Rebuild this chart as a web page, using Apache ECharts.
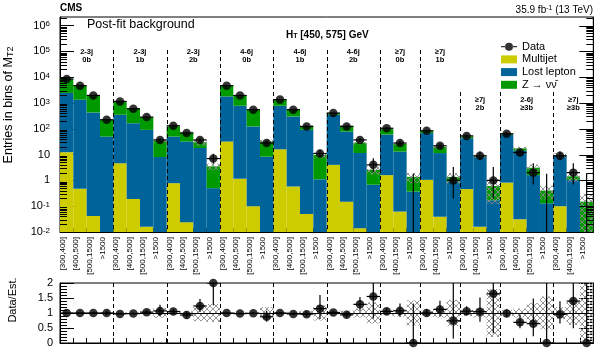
<!DOCTYPE html>
<html><head><meta charset="utf-8">
<script src="https://cdn.jsdelivr.net/npm/echarts@6/dist/echarts.min.js"></script>
<style>html,body{margin:0;padding:0;background:#fff}#c{width:598px;height:353px}</style>
</head><body><div id="c"></div>
<script>
// ---------------- data ----------------
const categories = [
 '[300,400]','[400,500]','[500,1500]','>1500',
 '[300,400]','[400,500]','[500,1500]','>1500',
 '[300,400]','[400,500]','[500,1500]','>1500',
 '[300,400]','[400,500]','[500,1500]','>1500',
 '[300,400]','[400,500]','[500,1500]','>1500',
 '[300,400]','[400,500]','[500,1500]','>1500',
 '[300,400]','[400,1500]','>1500',
 '[300,400]','[400,1500]','>1500',
 '[300,400]','[400,1500]','>1500',
 '[300,400]','[400,500]','[500,1500]','>1500',
 '[300,400]','[400,1500]','>1500'
];
const groupJets  = ['2-3j','2-3j','2-3j','4-6j','4-6j','4-6j','\u22657j','\u22657j','\u22657j','2-6j','\u22657j'];
const groupBtags = ['0b','1b','2b','0b','1b','2b','0b','1b','2b','\u22653b','\u22653b'];
const groupSizes = [4,4,4,4,4,4,3,3,3,4,3];

const multijet = [12.4,0.47,0.042,0, 4.6,0.19,0.016,0, 0.78,0.024,0,0,
  32,1.15,0.10,0, 16,0.58,0.05,0, 4.0,0.15,0.014,0,
  1.6,0.062,0, 1.05,0.039,0, 0.46,0.016,0, 0.82,0.031,0,0, 0.10,0,0];
const lostLepton = [2438,1350,430,50, 345,165,91,8, 49,32,18,0.5,
  1770,780,123,8.3, 764,300,91,1.1, 346,78,11.5,0.68,
  58,13,0.37, 67,11.4,0.9, 42.5,8.0,0.17, 57,14,1.6,0.13, 8.8,1.05,0];
const zinv = [6050,3350,1530,174, 835,447,185,26.6, 75,41,12,3.0,
  2900,1220,433,23.7, 570,267,37,8.5, 50,53,17.2,1.9,
  40,13,1.0, 16,8.2,0.45, 7,0.6,0.44, 7,3.4,1.5,0.27, 0.5,0.38,0.15];
const dataCounts = [8500,4700,1960,224, 1150,600,284,37, 131,68,37,7,
  4700,1960,550,28, 1350,550,123,11, 407,123,37,4,
  105,28,0, 84,22,1, 53,9,1, 64,12,2,0, 9,2,0];
const dataErrLo = [92,69,44,15, 34,24,17,6.1, 11.4,8.2,6.1,2.6,
  69,44,23,5.3, 37,23,11,3.3, 20,11,6.1,1.9,
  10.2,5.3,0, 9.2,4.7,0.8, 7.3,2.9,0.8, 8,3.4,1.3,0, 2.9,1.3,0];
const dataErrHi = [92,69,44,15, 34,24,17,7.1, 11.4,8.2,7.1,3.8,
  69,44,23,6.3, 37,23,11,4.4, 20,11,7.1,3.2,
  11.2,6.3,1.8, 10.2,5.7,2.3, 8.3,4.1,2.3, 9,4.6,2.6,1.8, 4.1,2.6,1.8];
const bkgUncRel = [0.02,0.02,0.02,0.03, 0.02,0.02,0.03,0.16, 0.04,0.06,0.27,0.3,
  0.02,0.03,0.03,0.2, 0.03,0.04,0.08,0.25, 0.04,0.08,0.15,0.35,
  0.08,0.12,0.42, 0.08,0.15,0.44, 0.1,0.15,0.8, 0.1,0.15,0.33,0.55, 0.2,0.4,1.0];
const yTickValuesNote = 'log axis 1e-2 .. 1e6';

// ---------------- derived ----------------
const FONT = '"Liberation Sans", Arial, Helvetica, sans-serif';
const nBins = categories.length;
const yMin = 0.01, yMax = 2.15e6;
const cum1 = multijet.slice();
const cum2 = multijet.map((v,i)=>v+lostLepton[i]);
const total = cum2.map((v,i)=>v+zinv[i]);
const groupStart = []; {let s=0; for (const n of groupSizes){groupStart.push(s); s+=n;}}
const lowLabelGroups = new Set([8,9,10]);
const COL = {mj:'#cccc00', ll:'#00649b', z:'#009a00'};

function hatchCanvas(){
  const c=document.createElement('canvas'); c.width=6; c.height=6;
  const g=c.getContext('2d'); g.strokeStyle='#8a8a8a'; g.lineWidth=0.9;
  g.beginPath(); g.moveTo(0,0); g.lineTo(6,6); g.moveTo(6,0); g.lineTo(0,6); g.stroke();
  return c;
}
const HATCH = {image: hatchCanvas(), repeat:'repeat'};
const cl = v => Math.max(v, yMin);

function layer(name, color, lo, hi){
  return {
    type:'custom', name, xAxisIndex:0, yAxisIndex:0, clip:true, silent:true,
    itemStyle:{color},
    data: lo.map((l,i)=>[i, cl(l), cl(hi[i])]),
    renderItem(params, api){
      const i=api.value(0), l=api.value(1), h=api.value(2);
      if (!(h>l)) return null;
      const bw = params.coordSys.width/nBins;
      const p1=api.coord([i,l]), p2=api.coord([i,h]);
      return {type:'rect', shape:{x:p1[0]-bw/2, y:p2[1], width:bw, height:p1[1]-p2[1]}, style:{fill:color}};
    }
  };
}

const minorVals = [];
for (let e=-2; e<=6; e++){ for (let k=2;k<=9;k++){ const v=k*Math.pow(10,e); if (v<yMax) minorVals.push([0,v,7]); } }
for (let e=-2; e<=6; e++) minorVals.push([0,Math.pow(10,e),14]);

const black = {color:'#000', width:1};
const option = {
  animation:false,
  textStyle:{fontFamily:FONT},
  grid:[
    {left:60, top:17, width:533.3, height:215, show:true, borderColor:'#000', borderWidth:1, backgroundColor:'#fff', outerBoundsMode:'none'},
    {left:60, top:283, width:533.3, height:60, show:true, borderColor:'#000', borderWidth:1, backgroundColor:'#fff', outerBoundsMode:'none'}
  ],
  legend:{
    left:496, top:36.2, orient:'vertical', itemWidth:16, itemHeight:8, itemGap:1.7, selectedMode:false,
    textStyle:{fontSize:11, lineHeight:11, color:'#000', fontFamily:FONT},
    data:[
      {name:'Data', icon:'path://M0,3.4H4.2V4.6H0Z M11.8,3.4H16V4.6H11.8Z M4,4A4,4 0 1,0 12,4A4,4 0 1,0 4,4Z', itemStyle:{color:'#000'}},
      {name:'Multijet', icon:'rect'},
      {name:'Lost lepton', icon:'rect'},
      {name:'Z \u2192 \u03bd\u03bd\u0304', icon:'rect'}
    ]
  },
  xAxis:[
    {type:'category', gridIndex:0, data:categories, boundaryGap:true,
     axisLine:{show:true, lineStyle:black},
     axisTick:{show:true, inside:true, length:4, interval:0, lineStyle:black},
     axisLabel:{interval:0, rotate:90, fontSize:8, margin:5, color:'#000', fontFamily:FONT, verticalAlign:'bottom'},
     splitLine:{show:false}},
    {type:'category', gridIndex:1, data:categories, boundaryGap:true,
     axisLine:{show:true, lineStyle:black},
     axisTick:{show:true, inside:true, length:5, interval:0, lineStyle:black},
     axisLabel:{show:false}, splitLine:{show:false}}
  ],
  yAxis:[
    {type:'log', gridIndex:0, min:yMin, max:yMax, logBase:10,
     axisLine:{show:true, lineStyle:black},
     axisTick:{show:true, inside:true, length:14, lineStyle:black},
     splitLine:{show:false}, minorTick:{show:false},
     axisLabel:{showMaxLabel:false, margin:10, fontSize:11, color:'#000', fontFamily:FONT,
       formatter:v=>{const n=Math.round(Math.log10(v)); if(n===0) return '1'; if(n===1) return '10'; return '10{sup|'+n+'}';},
       rich:{sup:{fontSize:8, verticalAlign:'top', lineHeight:8, fontFamily:FONT, color:'#000'}}}},
    {type:'log', gridIndex:0, min:yMin, max:yMax, logBase:10, position:'right',
     axisLine:{show:true, lineStyle:black}, axisTick:{show:false}, axisLabel:{show:false}, splitLine:{show:false}},
    {type:'value', gridIndex:1, min:0, max:2, interval:0.5,
     axisLine:{show:true, lineStyle:black},
     axisTick:{show:true, inside:true, length:14, lineStyle:black},
     minorTick:{show:true, splitNumber:5, length:7, lineStyle:black},
     splitLine:{show:false},
     axisLabel:{margin:7, fontSize:11, color:'#000', fontFamily:FONT, formatter:v=>String(v)}},
    {type:'value', gridIndex:1, min:0, max:2, interval:0.5, position:'right',
     axisLine:{show:true, lineStyle:black},
     axisTick:{show:true, inside:true, length:14, lineStyle:black},
     minorTick:{show:true, splitNumber:5, length:7, lineStyle:black},
     splitLine:{show:false}, axisLabel:{show:false}}
  ],
  series:[
    layer('Multijet', COL.mj, multijet.map(()=>0), cum1),
    layer('Lost lepton', COL.ll, cum1, cum2),
    layer('Z \u2192 \u03bd\u03bd\u0304', COL.z, cum2, total),
    // uncertainty band (main)
    {type:'custom', xAxisIndex:0, yAxisIndex:0, clip:true, silent:true,
     data: total.map((t,i)=>[i, cl(t*(1-bkgUncRel[i])), cl(t*(1+bkgUncRel[i]))]),
     renderItem(params, api){
       const i=api.value(0), l=api.value(1), h=api.value(2);
       if (!(h>l)) return null;
       const bw=params.coordSys.width/nBins;
       const p1=api.coord([i,l]), p2=api.coord([i,h]);
       return {type:'rect', shape:{x:p1[0]-bw/2, y:p2[1], width:bw, height:p1[1]-p2[1]}, style:{fill:HATCH}};
     }},
    // ticks on log axis (minor left/right, major right)
    {type:'custom', xAxisIndex:0, yAxisIndex:0, clip:false, silent:true, data:minorVals,
     renderItem(params, api){
       const cs=params.coordSys; const y=Math.round(api.coord([0,api.value(1)])[1])+0.5; const L=api.value(2);
       const ch=[{type:'line', shape:{x1:cs.x+cs.width-L, y1:y, x2:cs.x+cs.width, y2:y}, style:{stroke:'#000', lineWidth:1}}];
       if (L<10) ch.push({type:'line', shape:{x1:cs.x, y1:y, x2:cs.x+L, y2:y}, style:{stroke:'#000', lineWidth:1}});
       return {type:'group', children:ch};
     }},
    // group separators and labels (main)
    {type:'custom', xAxisIndex:0, yAxisIndex:0, clip:false, silent:true,
     data: groupSizes.map((n,g)=>[groupStart[g],1]),
     renderItem(params, api){
       const g=params.dataIndex, cs=params.coordSys, bw=cs.width/nBins;
       const x0=api.coord([groupStart[g],1])[0]-bw/2, xc=x0+groupSizes[g]*bw/2;
       const low=lowLabelGroups.has(g);
       const ch=[];
       if (g>0) ch.push({type:'line', shape:{x1:Math.round(x0)+0.5, y1:cs.y+(low?75:33), x2:Math.round(x0)+0.5, y2:cs.y+cs.height}, style:{stroke:'#000', lineWidth:1, lineDash:[4,3]}});
       ch.push({type:'text', x:xc, y:cs.y+(low?82.5:34.5), style:{text:groupJets[g], font:'bold 7.5px '+FONT, fill:'#000', align:'center', verticalAlign:'middle'}});
       ch.push({type:'text', x:xc, y:cs.y+(low?90.5:42.5), style:{text:groupBtags[g], font:'bold 7.5px '+FONT, fill:'#000', align:'center', verticalAlign:'middle'}});
       return {type:'group', children:ch};
     }},
    // data error bars (main)
    {type:'custom', xAxisIndex:0, yAxisIndex:0, clip:true, silent:true,
     data: dataCounts.map((d,i)=>[i, d, dataErrLo[i], dataErrHi[i]]),
     renderItem(params, api){
       const i=api.value(0), d=api.value(1), lo=api.value(2), hi=api.value(3);
       const bw=params.coordSys.width/nBins;
       const c=api.coord([i,cl(d)]); const yl=api.coord([i,cl(d-lo)])[1], yh=api.coord([i,cl(d+hi)])[1];
       const ch=[{type:'line', shape:{x1:c[0], y1:yl, x2:c[0], y2:yh}, style:{stroke:'#000', lineWidth:1.2}}];
       if (d>0) ch.push({type:'line', shape:{x1:c[0]-bw/2, y1:c[1], x2:c[0]+bw/2, y2:c[1]}, style:{stroke:'#000', lineWidth:1.2}});
       return {type:'group', children:ch};
     }},
    {type:'scatter', name:'Data', xAxisIndex:0, yAxisIndex:0, symbol:'circle', symbolSize:8.5, silent:true,
     itemStyle:{color:'#000'}, data: dataCounts.map((d,i)=>[i, d>0?d:'-'])},

    // ---- ratio panel ----
    {type:'custom', xAxisIndex:1, yAxisIndex:2, clip:true, silent:true,
     data: bkgUncRel.map((u,i)=>[i, 1-u, 1+u]),
     renderItem(params, api){
       const i=api.value(0); const bw=params.coordSys.width/nBins;
       const p1=api.coord([i,api.value(1)]), p2=api.coord([i,api.value(2)]);
       return {type:'rect', shape:{x:p1[0]-bw/2, y:p2[1], width:bw, height:p1[1]-p2[1]}, style:{fill:HATCH}};
     }},
    {type:'custom', xAxisIndex:1, yAxisIndex:2, clip:false, silent:true,
     data: groupSizes.map((n,g)=>[groupStart[g],1]),
     renderItem(params, api){
       const g=params.dataIndex, cs=params.coordSys, bw=cs.width/nBins;
       const ch=[];
       if (g===0){ const y1=Math.round(api.coord([0,1])[1])+0.5; ch.push({type:'line', shape:{x1:cs.x, y1:y1, x2:cs.x+cs.width, y2:y1}, style:{stroke:'#000', lineWidth:1}}); }
       else { const x0=Math.round(api.coord([groupStart[g],1])[0]-bw/2)+0.5;
         ch.push({type:'line', shape:{x1:x0, y1:cs.y, x2:x0, y2:cs.y+cs.height}, style:{stroke:'#000', lineWidth:1, lineDash:[4,3]}}); }
       return {type:'group', children:ch};
     }},
    {type:'custom', xAxisIndex:1, yAxisIndex:2, clip:true, silent:true,
     data: dataCounts.map((d,i)=>[i, d/total[i], dataErrLo[i]/total[i], dataErrHi[i]/total[i]]),
     renderItem(params, api){
       const i=api.value(0), r=api.value(1), lo=api.value(2), hi=api.value(3);
       const bw=params.coordSys.width/nBins;
       const c=api.coord([i,r]); const yl=api.coord([i,Math.max(r-lo,0)])[1], yh=api.coord([i,r+hi])[1];
       return {type:'group', children:[
         {type:'line', shape:{x1:c[0], y1:yl, x2:c[0], y2:yh}, style:{stroke:'#000', lineWidth:1.2}},
         {type:'line', shape:{x1:c[0]-bw/2, y1:c[1], x2:c[0]+bw/2, y2:c[1]}, style:{stroke:'#000', lineWidth:1.2}}]};
     }},
    {type:'scatter', xAxisIndex:1, yAxisIndex:2, symbol:'circle', symbolSize:8.5, silent:true, clip:false,
     itemStyle:{color:'#000'}, data: dataCounts.map((d,i)=>[i, d/total[i]])}
  ],
  graphic:{elements:[
    {type:'text', x:60, y:8.5, style:{text:'CMS', font:'bold 10px '+FONT, fill:'#000', verticalAlign:'middle'}},
    {type:'text', x:593, y:10, style:{text:'35.9 fb{sup|-1} (13 TeV)', font:'10px '+FONT, fontSize:10, fontFamily:FONT, fill:'#000', align:'right', verticalAlign:'middle',
       rich:{sup:{fontSize:7, verticalAlign:'top', lineHeight:7, fontFamily:FONT, fill:'#000'}}}},
    {type:'text', x:87, y:24.5, style:{text:'Post-fit background', font:'12.5px '+FONT, fill:'#000', verticalAlign:'middle'}},
    {type:'text', x:286, y:35, style:{text:'H{sub|T} [450, 575] GeV', fontSize:10, fontWeight:'bold', fontFamily:FONT, fill:'#000', verticalAlign:'middle',
       rich:{sub:{fontSize:7, fontWeight:'bold', verticalAlign:'bottom', lineHeight:7, fontFamily:FONT, fill:'#000'}}}},
    {type:'text', x:9, y:105, rotation:Math.PI/2, style:{text:'Entries in bins of M{sub|T2}', fontSize:12.5, fontFamily:FONT, fill:'#000', align:'center', verticalAlign:'middle',
       rich:{sub:{fontSize:9, verticalAlign:'bottom', lineHeight:9, fontFamily:FONT, fill:'#000'}}}},
    {type:'text', x:13, y:300, rotation:Math.PI/2, style:{text:'Data/Est.', fontSize:11, fontFamily:FONT, fill:'#000', align:'center', verticalAlign:'middle'}}
  ]}
};
const chart = echarts.init(document.getElementById('c'), null, {renderer:'canvas'});
chart.setOption(option);
</script></body></html>
